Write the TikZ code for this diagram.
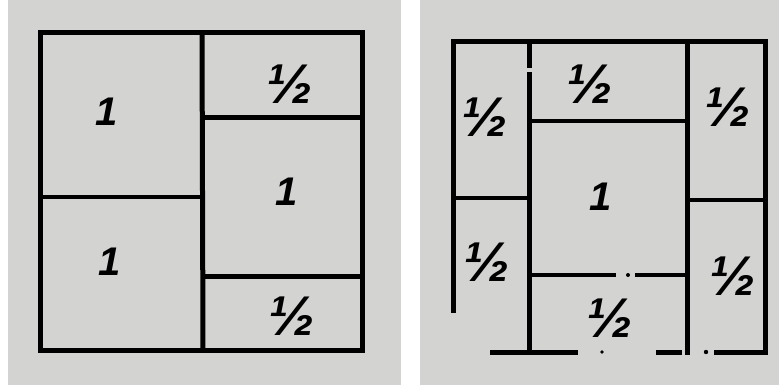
\documentclass[tikz,border=0pt]{standalone}
\usepackage{fontspec}
\newfontfamily\handfont{Liberation Sans}
\usepackage{tikz}
\usetikzlibrary{positioning}

\definecolor{paper}{RGB}{211,212,210}

\tikzset{
  wall/.style={line width=5pt, line cap=rect},
  thinwall/.style={line width=4pt, line cap=rect},
  share/.style={font=\handfont\bfseries\itshape\fontsize{40}{40}\selectfont, inner sep=0pt},
  halfshare/.style={share, font=\handfont\bfseries\itshape\fontsize{56}{56}\selectfont},
  gapdot/.style={fill=black, draw=none}
}

\begin{document}
\begin{tikzpicture}[x=1pt,y=-1pt]
  % paper
  \fill[white] (0,0) rectangle (779,385);
  \fill[paper] (8,0) rectangle (401,385);
  \fill[paper] (420,0) rectangle (779,385);
  \useasboundingbox (0,0) rectangle (779,385);

  % Left plan: outline and dividers
  \draw[wall, line cap=butt] (40,33) rectangle (362,350);
  \draw[wall] (202,33) -- (203,350);
  \draw[thinwall] (40,197) -- (202,197);
  \draw[wall] (202,118) -- (362,118);
  \draw[wall] (203,276) -- (362,276);
  % Left plan: shares
  \node[share] (l1) at (107,112) {1};
  \node[share] (l2) at (110,262) {1};
  \node[halfshare] (l3) at (290,84) {½};
  \node[share] (l4) at (287,192) {1};
  \node[halfshare] (l5) at (292,316) {½};

  % Right plan: outline
  \draw[wall] (453,310) -- (453,42) -- (765,42) -- (765,352);
  \draw[wall] (529,42) -- (529,66);
  \draw[wall] (529,75) -- (529,352);
  \draw[wall] (687,42) -- (687,352);
  % Right plan: cross walls
  \draw[thinwall] (453,198) -- (529,198);
  \draw[thinwall] (687,200) -- (765,200);
  \draw[thinwall] (529,121) -- (687,121);
  \draw[thinwall] (529,275) -- (614,275);
  \fill[gapdot] (628,275) circle (2pt);
  \draw[thinwall] (637,275) -- (687,275);
  % Right plan: broken base line
  \draw[wall] (492,352) -- (575,352);
  \fill[gapdot] (602,352) circle (1.8pt);
  \draw[wall] (658,352) -- (679,352);
  \fill[gapdot] (706,352) circle (2.2pt);
  \draw[wall] (716,352) -- (765,352);
  % Right plan: shares
  \node[halfshare] (r1) at (485,117) {½};
  \node[halfshare] (r2) at (487,262) {½};
  \node[halfshare] (r3) at (590,84) {½};
  \node[share] (r4) at (601,197) {1};
  \node[halfshare] (r5) at (728,107) {½};
  \node[halfshare] (r6) at (733,276) {½};
  \node[halfshare] (r7) at (610,318) {½};
\end{tikzpicture}
\end{document}
